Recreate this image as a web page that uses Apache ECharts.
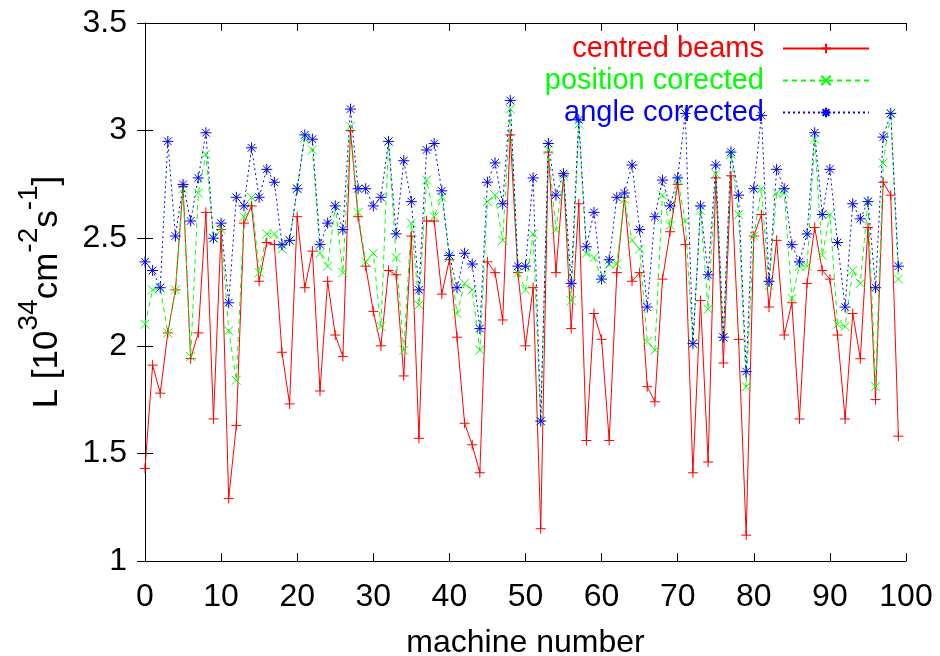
<!DOCTYPE html>
<html><head><meta charset="utf-8">
<script src="https://cdn.jsdelivr.net/npm/echarts@6/dist/echarts.min.js"></script>
<style>html,body{margin:0;padding:0;background:#fff}#c{width:940px;height:656px}</style>
</head><body><div id="c"></div>
<script>
const machines = Array.from({length:100},(_, i)=>i);
const centred = [1.43,1.91,1.78,2.06,2.26,2.74,1.94,2.06,2.62,1.66,
2.54,1.29,1.63,2.57,2.65,2.30,2.48,2.47,1.97,1.73,
2.60,2.27,2.44,1.79,2.30,2.05,1.95,3.00,2.60,2.37,
2.16,2.00,2.35,2.33,1.86,2.51,1.57,2.58,2.58,2.24,
2.40,2.04,1.64,1.54,1.41,2.39,2.34,2.12,2.98,2.34,
2.00,2.27,1.15,2.90,2.34,2.79,2.08,2.66,1.56,2.15,
2.03,1.56,2.34,2.69,2.30,2.34,1.81,1.74,2.31,2.53,
2.75,2.47,1.41,2.21,1.46,2.78,1.92,2.79,2.03,1.12,
2.51,2.61,2.18,2.49,2.05,2.20,1.66,2.29,2.55,2.35,
2.31,2.05,1.66,2.15,1.94,2.55,1.75,2.76,2.70,1.58];
const positionCorrected = [2.10,2.26,2.27,2.06,2.26,2.73,1.95,2.71,2.89,2.50,
2.54,2.07,1.84,2.60,2.69,2.34,2.52,2.52,2.45,2.49,
2.73,2.97,2.91,2.43,2.37,2.65,2.34,3.02,2.62,2.39,
2.43,2.09,2.95,2.41,1.98,2.57,2.19,2.77,2.60,2.69,
2.41,2.15,2.29,2.26,1.98,2.67,2.70,2.49,3.10,2.34,
2.26,2.52,1.65,2.91,2.54,2.79,2.21,3.03,2.43,2.41,
2.31,2.38,2.38,2.68,2.49,2.45,2.02,1.98,2.70,2.56,
2.77,2.58,2.01,2.63,2.17,2.80,2.04,2.89,2.61,1.81,
2.51,2.73,2.28,2.71,2.71,2.22,2.37,2.37,2.96,2.42,
2.61,2.10,2.09,2.35,2.29,2.67,1.81,2.85,3.08,2.31];
const angleCorrected = [2.39,2.35,2.27,2.95,2.51,2.75,2.58,2.78,2.99,2.50,
2.57,2.20,2.69,2.65,2.92,2.69,2.82,2.76,2.47,2.49,
2.73,2.98,2.96,2.47,2.57,2.65,2.54,3.10,2.73,2.73,
2.65,2.69,2.95,2.52,2.86,2.67,2.26,2.91,2.94,2.72,
2.42,2.27,2.43,2.38,2.08,2.76,2.85,2.66,3.14,2.37,
2.37,2.78,1.65,2.94,2.70,2.80,2.29,3.05,2.46,2.62,
2.31,2.40,2.69,2.71,2.84,2.54,2.18,2.60,2.77,2.65,
2.78,3.08,2.01,2.65,2.33,2.84,2.04,2.90,2.70,1.88,
2.73,3.07,2.30,2.82,2.73,2.47,2.39,2.52,2.99,2.61,
2.82,2.48,2.18,2.66,2.59,2.67,2.27,2.97,3.08,2.37];
const seriesNames = ['centred beams','position corected','angle corrected'];
const xTicks = [0,10,20,30,40,50,60,70,80,90,100];
const yTicks = [1,1.5,2,2.5,3,3.5];

const FONT = 'Liberation Sans, Arial, sans-serif';
const FS = 32;
const pair = arr => machines.map((m,i)=>[m, arr[i]]);
const symPlus = 'path://M0,5L10,5M5,0L5,10';
const symX = 'path://M0,0L10,10M10,0L0,10';
const symStar = 'path://M0,5L10,5M5,0L5,10M1.5,1.5L8.5,8.5M8.5,1.5L1.5,8.5';
const axisCommon = {
  axisLine:{show:true,lineStyle:{color:'#000',width:1}},
  axisTick:{show:true,inside:true,length:8,lineStyle:{color:'#000'}},
  splitLine:{show:false}
};
const chart = echarts.init(document.getElementById('c'), null, {renderer:'canvas'});
function mkSeries(name, arr, color, sym, type, size){
  return {
    name, type:'line', data: pair(arr), symbol: sym, symbolSize: size,
    lineStyle:{color, width:1, type},
    itemStyle:{color:'rgba(0,0,0,0)', borderColor:color, borderWidth:1},
    emphasis:{disabled:true}, animation:false
  };
}
chart.setOption({
  animation:false,
  textStyle:{fontFamily:FONT},
  grid:{left:145, right:34, top:23, bottom:95, containLabel:false, outerBoundsMode:'none'},
  legend:{
    orient:'vertical', right:65, top:28, align:'right',
    itemWidth:86, itemHeight:12, itemGap:1,
    textStyle:{fontSize:FS-3, fontFamily:FONT, lineHeight:31},
    data: seriesNames.map((n,i)=>({name:n, textStyle:{color:['#ff0000','#00ff00','#0000ff'][i], padding:[0,14,0,0]}})),
    selectedMode:false
  },
  xAxis:[
    Object.assign({type:'value', min:0, max:100, interval:10, position:'bottom',
      name:'machine number', nameLocation:'middle', nameGap:66,
      nameTextStyle:{fontSize:FS, color:'#000', fontFamily:FONT},
      axisLabel:{fontSize:FS, color:'#000', margin:20, fontFamily:FONT}}, axisCommon),
    Object.assign({type:'value', min:0, max:100, interval:10, position:'top',
      axisLabel:{show:false}}, axisCommon)
  ],
  yAxis:[
    Object.assign({type:'value', min:1, max:3.5, interval:0.5, position:'left',
      name:'{n|L [10}{s|34}{n|cm}{s|-2}{n|s}{s|-1}{n|]}', nameLocation:'middle', nameGap:80, nameRotate:90,
      nameTextStyle:{fontFamily:FONT, color:'#000', rich:{
        n:{fontSize:35, color:'#000', fontFamily:FONT, verticalAlign:'bottom', lineHeight:50},
        s:{fontSize:28, color:'#000', fontFamily:FONT, verticalAlign:'top', lineHeight:50}}},
      axisLabel:{fontSize:FS, color:'#000', margin:18, fontFamily:FONT}}, axisCommon),
    Object.assign({type:'value', min:1, max:3.5, interval:0.5, position:'right',
      axisLabel:{show:false}}, axisCommon)
  ],
  series:[
    mkSeries(seriesNames[0], centred, '#ff0000', symPlus, 'solid', 10),
    mkSeries(seriesNames[1], positionCorrected, '#00ff00', symX, [5,4], 9),
    mkSeries(seriesNames[2], angleCorrected, '#0000ff', symStar, [2,3], 11)
  ]
});
</script></body></html>
